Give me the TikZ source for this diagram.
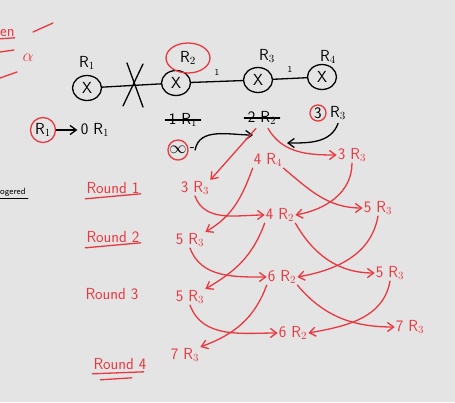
\documentclass[tikz,border=0pt]{standalone}
\usetikzlibrary{arrows.meta, positioning, shapes.geometric}

\definecolor{board}{RGB}{228,228,228}
\definecolor{handred}{RGB}{232,56,64}

\begin{document}
\begin{tikzpicture}[
  x=1pt, y=-1pt,
  font=\sffamily\fontsize{16}{18}\selectfont,
  >={Straight Barb[length=2.2mm, width=3.2mm]},
  pen/.style={line width=1.3pt, line cap=round},
  red-pen/.style={pen, handred},
  router/.style={ellipse, draw, pen, minimum width=29pt, minimum height=25pt,
                 inner sep=0pt},
  ring/.style={draw=handred, pen, circle, inner sep=1.5pt},
  hop/.style={text=handred, inner sep=1pt},
  round-lbl/.style={text=handred, inner sep=1pt},
  hop-arrow/.style={->, red-pen},
  note-arrow/.style={->, pen}
]
  \useasboundingbox[fill=board] (0,0) rectangle (455,402);

  % leftovers at the board edge
  \node[text=handred, anchor=west, inner sep=0pt] (frag-en) at (0,33) {en};
  \draw[red-pen] ([yshift=-2pt]frag-en.south west) -- ([yshift=-1pt]frag-en.south east);
  \draw[red-pen] (33,32) -- (53,23);
  \node[text=handred, inner sep=0pt] (frag-alpha) at (28,58) {$\alpha$};
  \draw[red-pen] (0,52) -- (14,50);
  \draw[red-pen] (0,78) -- (17,72);
  \node[anchor=west, inner sep=0pt, font=\sffamily\small] (frag-trig) at (0,192) {ogered};
  \draw[pen, line width=0.9pt] ([yshift=-2pt]frag-trig.south west) -- ([shift={(2pt,-2pt)}]frag-trig.south east);

  % ===========================================================
  % network
  % ===========================================================
  \node[router] (R1) at ( 87,88) {X};
  \node[router] (R2) at (176,83) {X};
  \node[router] (R3) at (258,80) {X};
  \node[router] (R4) at (322,77) {X};

  \node (lbl-R1) at ( 87,63) {R$_1$};
  \node[draw=handred, pen, ellipse, inner sep=0pt, minimum width=44pt,
        minimum height=30pt] (lbl-R2) at (188,58) {R$_2$};
  \node (lbl-R3) at (267,56) {R$_3$};
  \node (lbl-R4) at (328,57) {R$_4$};

  \draw[pen] (R1) -- (R2);
  \draw[pen] (R2) -- node[above=2pt, font=\sffamily\small]{1} (R3);
  \draw[pen] (R3) -- node[above=2pt, font=\sffamily\small]{1} (R4);

  % failed link
  \draw[pen] (127,63) -- (143,107);
  \draw[pen] (143,64) -- (123,106);

  % source
  \node[ring] (src) at (43,130) {R$_1$};
  \node (src-dist) at (95,130) {0 R$_1$};
  \draw[note-arrow] (src) -- (src-dist);

  % initial estimates
  \node (init-R1) at (183,120) {1 R$_1$};
  \draw[pen] (init-R1.west) -- (init-R1.east);
  \node (init-R2) at (262,118) {2 R$_2$};
  \draw[pen] (init-R2.west) -- (init-R2.east);
  \node[ring, inner sep=1pt] (three) at (318,113) {3};
  \node[right=0pt of three] (init-R3) {R$_3$};

  \node[ring, inner sep=0.5pt] (inf) at (178,150) {$\infty$};
  \node[right=1pt of inf, inner sep=0pt] (inf-dash) {-};
  \coordinate (inf-tip) at (253,135);
  \coordinate (three-tip) at (287,143);
  \draw[note-arrow] (inf-dash.east) to[out=80, in=180] (inf-tip);
  \draw[note-arrow] (init-R3.south) to[out=-110, in=0] (three-tip);

  % ===========================================================
  % rounds
  % ===========================================================
  \node[round-lbl] (round1) at (113,188) {Round 1};
  \node[round-lbl] (round2) at (113,237) {Round 2};
  \node[round-lbl] (round3) at (112,294) {Round 3};
  \node[round-lbl] (round4) at (120,364) {Round 4};
  \draw[red-pen] ([yshift=-4pt]round1.south west) -- ([yshift=1pt]round1.south east);
  \draw[red-pen] ([yshift=-4pt]round2.south west) -- ([yshift=1pt]round2.south east);
  \draw[red-pen] ([yshift=-3pt]round4.south west) -- ([shift={(-4pt,-1pt)}]round4.south east);
  \draw[red-pen] ([shift={(8pt,-9pt)}]round4.south west) -- ([shift={(-16pt,-7pt)}]round4.south east);

  \node[hop] (r1-a) at (195,188) {3 R$_3$};
  \node[hop] (r1-b) at (268,160) {4 R$_4$};
  \node[hop] (r1-c) at (352,155) {3 R$_3$};

  \node[hop] (r2-a) at (190,240) {5 R$_3$};
  \node[hop] (r2-b) at (280,215) {4 R$_2$};
  \node[hop] (r2-c) at (378,208) {5 R$_3$};

  \node[hop] (r3-a) at (190,297) {5 R$_3$};
  \node[hop] (r3-b) at (282,277) {6 R$_2$};
  \node[hop] (r3-c) at (390,273) {5 R$_3$};

  \node[hop] (r4-a) at (185,355) {7 R$_3$};
  \node[hop] (r4-b) at (293,333) {6 R$_2$};
  \node[hop] (r4-c) at (410,327) {7 R$_3$};

  % initial -> round 1
  \draw[hop-arrow] (init-R2.240) -- (r1-a.north east);
  \draw[hop-arrow] (init-R2.300) to[out=-60, in=180] (r1-c.west);

  % round 1 -> round 2
  \draw[hop-arrow] (r1-a.south) to[out=-70, in=180] (r2-b.west);
  \draw[hop-arrow] (r1-b.south west) to[out=-110, in=30] (r2-a.north east);
  \draw[hop-arrow] (r1-b.south east) to[out=-40, in=180] (r2-c.west);
  \draw[hop-arrow] (r1-c.south) to[out=-90, in=10] (r2-b.east);

  % round 2 -> round 3
  \draw[hop-arrow] (r2-a.south) to[out=-70, in=180] (r3-b.west);
  \draw[hop-arrow] (r2-b.south west) to[out=-110, in=30] (r3-a.north east);
  \draw[hop-arrow] (r2-b.south east) to[out=-60, in=180] (r3-c.west);
  \draw[hop-arrow] (r2-c.south) to[out=-100, in=10] (r3-b.east);

  % round 3 -> round 4
  \draw[hop-arrow] (r3-a.south) to[out=-70, in=180] (r4-b.west);
  \draw[hop-arrow] (r3-b.south west) to[out=-110, in=20] (r4-a.north east);
  \draw[hop-arrow] (r3-b.south east) to[out=-50, in=180] (r4-c.west);
  \draw[hop-arrow] (r3-c.south) to[out=-100, in=10] (r4-b.east);

\end{tikzpicture}
\end{document}
